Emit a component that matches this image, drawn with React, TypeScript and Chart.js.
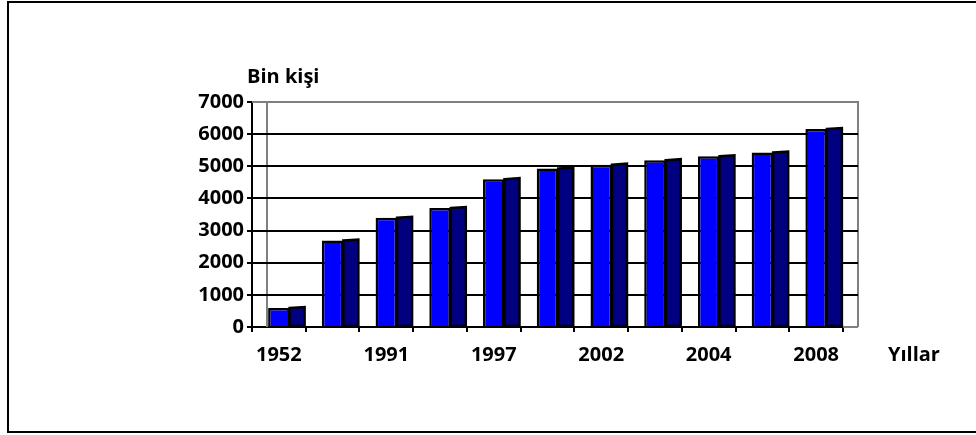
import React, { useEffect, useRef } from "react";
import { Chart, registerables } from "chart.js";

Chart.register(...registerables);

// Data
const categories: string[] = ["1952", "", "1991", "", "1997", "", "2002", "", "2004", "", "2008"];
const values: number[] = [590, 2690, 3400, 3700, 4600, 4930, 5050, 5190, 5310, 5430, 6160];
const yTicks: number[] = [0, 1000, 2000, 3000, 4000, 5000, 6000, 7000];
const yTitle = "Bin kişi";
const xTitle = "Yıllar";

const FONT = "'Open Sans', sans-serif";
const FSIZE = 20;
const WALL_X = 15;
const DEPTH_X = 15;
const DEPTH_Y = 1;

const threeD = {
  id: "threeD",
  beforeDatasetsDraw(chart: any) {
    const { ctx, chartArea } = chart;
    const { left, right, top, bottom } = chartArea;
    const y = chart.scales.y;
    ctx.save();
    // back wall (gray)
    ctx.strokeStyle = "#808080";
    ctx.lineWidth = 2;
    ctx.beginPath();
    ctx.moveTo(left + WALL_X, bottom);
    ctx.lineTo(left + WALL_X, top);
    ctx.moveTo(left, top);
    ctx.lineTo(right + WALL_X, top);
    ctx.lineTo(right + WALL_X, bottom);
    ctx.moveTo(right, bottom);
    ctx.lineTo(right + WALL_X, bottom);
    ctx.stroke();
    // gridlines (black)
    ctx.strokeStyle = "#000";
    ctx.lineWidth = 2;
    yTicks.forEach((v) => {
      if (v === 0 || v === yTicks[yTicks.length - 1]) return;
      const py = Math.round(y.getPixelForValue(v));
      ctx.beginPath();
      ctx.moveTo(left, py);
      ctx.lineTo(right + WALL_X, py);
      ctx.stroke();
    });
    // side faces of the bars
    const meta = chart.getDatasetMeta(0);
    meta.data.forEach((bar: any) => {
      const xr = bar.x + bar.width / 2;
      const base = bar.base;
      ctx.beginPath();
      ctx.moveTo(xr, bar.y);
      ctx.lineTo(xr + DEPTH_X, bar.y - DEPTH_Y);
      ctx.lineTo(xr + DEPTH_X, base);
      ctx.lineTo(xr, base);
      ctx.closePath();
      ctx.fillStyle = "#000080";
      ctx.fill();
      ctx.strokeStyle = "#000";
      ctx.lineWidth = 2.5;
      ctx.stroke();
    });
    ctx.restore();
  },
  afterDraw(chart: any) {
    const { ctx, chartArea } = chart;
    ctx.save();
    ctx.fillStyle = "#000";
    ctx.font = `bold ${FSIZE}px ${FONT}`;
    ctx.textBaseline = "middle";
    ctx.textAlign = "left";
    ctx.fillText(yTitle, chartArea.left - 5, chartArea.top - 25);
    ctx.fillText(xTitle, chartArea.right + 45, chartArea.bottom + 28);
    ctx.restore();
  },
};

export default function App() {
  const canvasRef = useRef<HTMLCanvasElement | null>(null);

  useEffect(() => {
    document.body.style.margin = "0";
    document.body.style.overflow = "hidden";
    const canvas = canvasRef.current!;
    const chart = new Chart(canvas, {
      type: "bar",
      data: {
        labels: categories,
        datasets: [
          {
            data: values,
            backgroundColor: "#0000FF",
            borderColor: "#000",
            borderWidth: 2.5,
            categoryPercentage: 1,
            barPercentage: 0.4,
          },
        ],
      },
      options: {
        animation: false,
        responsive: false,
        maintainAspectRatio: false,
        layout: { padding: { left: 0, top: 102, right: 133, bottom: 0 } },
        plugins: {
          legend: { display: false },
          tooltip: { enabled: false },
        },
        scales: {
          x: {
            offset: true,
            grid: {
              offset: true,
              drawOnChartArea: false,
              drawTicks: true,
              tickLength: 5,
              color: "#000",
              lineWidth: 2,
            },
            border: { display: true, color: "#000", width: 2 },
            ticks: {
              autoSkip: false,
              maxRotation: 0,
              color: "#000",
              padding: 11,
              font: { family: FONT, size: FSIZE, weight: 700 },
            },
            afterFit: (s: any) => {
              s.height = 108;
            },
          },
          y: {
            min: 0,
            max: 7000,
            afterBuildTicks: (s: any) => {
              s.ticks = yTicks.map((v) => ({ value: v }));
            },
            grid: {
              drawOnChartArea: false,
              drawTicks: true,
              tickLength: 5,
              color: "#000",
              lineWidth: 2,
            },
            border: { display: true, color: "#000", width: 2 },
            ticks: {
              color: "#000",
              padding: 3,
              font: { family: FONT, size: FSIZE, weight: 700 },
              callback: (v: any) => String(v),
            },
            afterFit: (s: any) => {
              s.width = 252;
            },
          },
        },
      },
      plugins: [threeD],
    });
    return () => chart.destroy();
  }, []);

  return (
    <div style={{ position: "relative", width: 976, height: 435, overflow: "hidden", background: "#fff" }}>
      <canvas ref={canvasRef} width={976} height={435} style={{ position: "absolute", left: 0, top: 0 }} />
      <div
        style={{
          position: "absolute",
          left: 7,
          top: 1,
          width: 1000,
          height: 428,
          border: "2px solid #000",
          pointerEvents: "none",
        }}
      />
    </div>
  );
}
